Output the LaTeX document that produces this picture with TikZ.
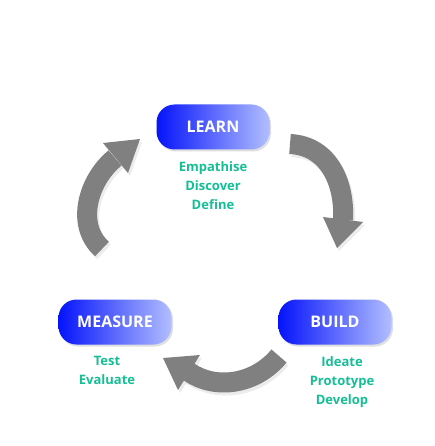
\documentclass[tikz,border=0pt]{standalone}
\usepackage{fontspec}
\setmainfont{Open Sans}
\usetikzlibrary{shadows}
\definecolor{pillL}{RGB}{5,20,250}
\definecolor{pillR}{RGB}{178,190,255}
\definecolor{teal}{RGB}{22,190,150}
\definecolor{arrowgray}{RGB}{128,128,128}
\tikzset{
  pill/.style={rounded corners=18pt, minimum width=113pt, minimum height=45pt,
    left color=pillL, right color=pillR, text=white, font=\fontsize{16}{18}\selectfont\bfseries,
    drop shadow={shadow xshift=1.5pt, shadow yshift=-2pt, opacity=0.25}},
  items/.style={text=teal, align=center, font=\fontsize{13}{19}\selectfont\bfseries},
  body/.style={draw=arrowgray, line width=20pt},
  head/.style={fill=arrowgray},
  shade/.style={draw=black!60, line width=20pt, opacity=0.12},
  shadehead/.style={fill=black!60, opacity=0.12},
}
\begin{document}
\begin{tikzpicture}[x=1pt,y=-1pt]
\useasboundingbox[fill=white] (0,0) rectangle (435,446);

% arrows shadows
\begin{scope}[shift={(2,3)}]
\draw[shade] (102,249) .. controls (75,225) and (88,180) .. (115,158);
\fill[shadehead] (140,139) -- (103,143) -- (128,173) -- cycle;
\draw[shade] (290,144) .. controls (330,146) and (345,185) .. (343,220);
\fill[shadehead] (337,248) -- (323,217) -- (363,222) -- cycle;
\draw[shade] (279,356) .. controls (255,385) and (215,390) .. (189,372);
\fill[shadehead] (163,358) -- (200,355) -- (178,390) -- cycle;
\end{scope}

% left arrow (MEASURE -> LEARN)
\coordinate (la1) at (102,249);
\coordinate (la2) at (115,158);
\draw[body] (la1) .. controls (75,225) and (88,180) .. (la2);
\fill[head] (140,139) -- (103,143) -- (128,173) -- cycle;

% right arrow (LEARN -> BUILD)
\coordinate (ra1) at (290,144);
\coordinate (ra2) at (343,220);
\draw[body] (ra1) .. controls (330,146) and (345,185) .. (ra2);
\fill[head] (337,248) -- (323,217) -- (363,222) -- cycle;

% bottom arrow (BUILD -> MEASURE)
\coordinate (ba1) at (279,356);
\coordinate (ba2) at (189,372);
\draw[body] (ba1) .. controls (255,385) and (215,390) .. (ba2);
\fill[head] (163,358) -- (200,355) -- (178,390) -- cycle;

\node[pill] (learn) at (213,127) {LEARN};
\node[pill] (measure) at (115,322) {MEASURE};
\node[pill] (build) at (335,322) {BUILD};

\node[items, anchor=north] (l1) at (213,158) {Empathise\\Discover\\Define};
\node[items, anchor=north] (m1) at (107,353) {Test\\Evaluate};
\node[items, anchor=north] (b1) at (342,353) {Ideate\\Prototype\\Develop};
\end{tikzpicture}
\end{document}
